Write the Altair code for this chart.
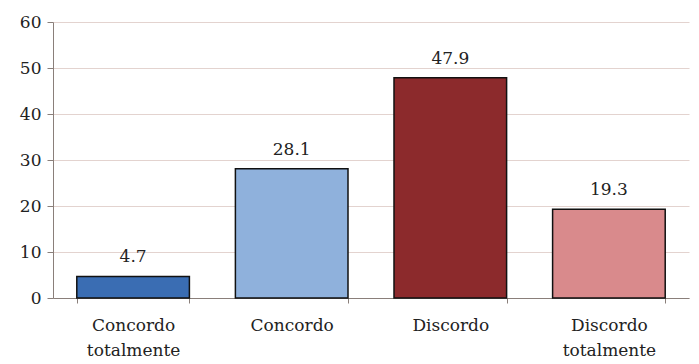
import altair as alt
import pandas as pd

categories = ["Concordo totalmente", "Concordo", "Discordo", "Discordo totalmente"]
values = [4.7, 28.1, 47.9, 19.3]
colors = ["#3a6db3", "#8fb1dc", "#8c2a2c", "#d98a8c"]

df = pd.DataFrame({"cat": categories, "val": values, "color": colors})

FONT = "DejaVu Serif"

x_enc = alt.X(
    "cat:N",
    sort=categories,
    title=None,
    scale=alt.Scale(paddingInner=0.29, paddingOuter=0.15),
    axis=alt.Axis(
        labelExpr="split(datum.label, ' ')",
        labelAngle=0,
        labelFontSize=17,
        labelColor="#222222",
        labelPadding=14,
        labelLineHeight=25,
        tickBand="extent",
        tickColor="#8a7f7a",
        tickSize=5,
        domainColor="#8a7f7a",
        grid=False,
    ),
)

y_enc = alt.Y(
    "val:Q",
    title=None,
    scale=alt.Scale(domain=[0, 60], nice=False),
    axis=alt.Axis(
        values=[0, 10, 20, 30, 40, 50, 60],
        labelFontSize=17,
        labelColor="#222222",
        labelPadding=6,
        tickColor="#8a7f7a",
        tickSize=6,
        domainColor="#8a7f7a",
        gridColor="#e3d3cf",
        gridWidth=1,
    ),
)

bars = alt.Chart(df).mark_bar(stroke="#111111", strokeWidth=1.5).encode(
    x=x_enc,
    y=y_enc,
    color=alt.Color("color:N", scale=None),
)

labels = alt.Chart(df).mark_text(
    fontSize=17, color="#222222", baseline="bottom", dy=-10
).encode(
    x=alt.X("cat:N", sort=categories),
    y="val:Q",
    text=alt.Text("val:Q", format=".1f"),
)

chart = (
    alt.layer(bars, labels)
    .properties(
        width=636,
        height=276,
        autosize=alt.AutoSizeParams(type="none"),
        padding={"left": 53, "top": 22, "right": 10, "bottom": 66},
        background="white",
    )
    .configure(font=FONT)
    .configure_view(stroke=None)
)

chart.save("out.html", embed_options={"renderer": "svg", "actions": False})
